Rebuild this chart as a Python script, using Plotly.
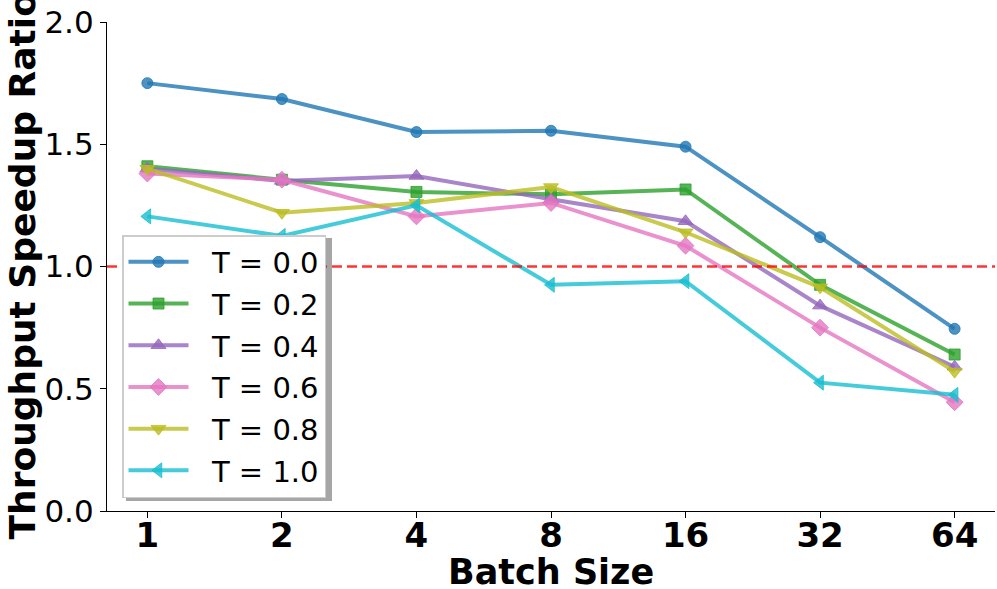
import plotly.graph_objects as go

batch_sizes = ["1", "2", "4", "8", "16", "32", "64"]
t00 = [1.75, 1.685, 1.55, 1.555, 1.49, 1.12, 0.745]
t02 = [1.41, 1.355, 1.305, 1.295, 1.315, 0.925, 0.64]
t04 = [1.40, 1.35, 1.37, 1.275, 1.185, 0.84, 0.59]
t06 = [1.38, 1.355, 1.205, 1.26, 1.085, 0.75, 0.445]
t08 = [1.40, 1.22, 1.26, 1.325, 1.14, 0.915, 0.57]
t10 = [1.205, 1.125, 1.25, 0.925, 0.94, 0.525, 0.475]

names = ["T = 0.0", "T = 0.2", "T = 0.4", "T = 0.6", "T = 0.8", "T = 1.0"]
series = [t00, t02, t04, t06, t08, t10]
colors = ["31,119,180", "44,160,44", "148,103,189", "227,119,194", "188,189,34", "23,190,207"]
symbols = ["circle", "square", "triangle-up", "diamond", "triangle-down", "triangle-left"]
sizes = [11, 11, 13, 13, 13, 13]

fig = go.Figure()
for i, (nm, ys) in enumerate(zip(names, series)):
    c = f"rgba({colors[i]},0.8)"
    fig.add_trace(go.Scatter(
        x=batch_sizes, y=ys, name="\u00a0\u00a0" + nm, mode="lines+markers",
        legendgroup=nm,
        line=dict(color=c, width=4),
        marker=dict(symbol=symbols[i], size=sizes[i], color=c,
                    line=dict(color=c, width=1)),
    ))

L, R, T, B = 107, 2, 22, 78
W, H = 997, 589
pw, ph = W - L - R, H - T - B

def px(x):
    return (x - L) / pw

def py(y):
    return (H - B - y) / ph

# baseline y = 1.0
fig.add_shape(type="line", xref="paper", yref="y", x0=0, x1=1, y0=1.0, y1=1.0,
              line=dict(color="rgba(255,0,0,0.8)", width=2.5, dash="10px,5px"),
              layer="above")
# legend shadow
fig.add_shape(type="rect", xref="paper", yref="paper",
              x0=px(126), x1=px(332), y0=py(501), y1=py(238),
              line=dict(width=0), fillcolor="rgba(77,77,77,0.5)", layer="above")

# axis titles
fig.add_annotation(text="<b>Batch Size</b>", xref="paper", yref="paper",
                   x=(551 - L) / pw, y=0,
                   xanchor="center", yanchor="middle", yshift=-(572 - (H - B)),
                   showarrow=False, font=dict(size=35, family="DejaVu Sans", color="black"))
fig.add_annotation(text="<b>Throughput Speedup Ratio</b>", xref="paper", yref="paper",
                   x=0, y=0.5, xanchor="center", yanchor="middle", xshift=22 - L,
                   textangle=-90, showarrow=False,
                   font=dict(size=36, family="DejaVu Sans", color="black"))

fig.update_layout(
    width=W, height=H,
    margin=dict(l=L, r=R, t=T, b=B, autoexpand=False),
    plot_bgcolor="white", paper_bgcolor="white",
    font=dict(family="DejaVu Sans", color="black"),
    showlegend=True,
    legend=dict(
        x=px(122), y=py(235), xanchor="left", yanchor="top",
        bgcolor="white", bordercolor="#cccccc", borderwidth=1.5,
        font=dict(size=29, family="DejaVu Sans", color="black"),
        itemwidth=60, tracegroupgap=1,
    ),
    xaxis=dict(
        type="category", range=[-0.3, 6.3],
        showline=True, linecolor="black", linewidth=1.2,
        ticks="outside", ticklen=6, tickcolor="black",
        tickfont=dict(size=34, weight="bold"), ticklabelstandoff=-12,
        showgrid=False, zeroline=False,
    ),
    yaxis=dict(
        range=[0, 2.0], dtick=0.5, tickformat=".1f",
        showline=True, linecolor="black", linewidth=1.2,
        ticks="outside", ticklen=6, tickcolor="black",
        tickfont=dict(size=31),
        showgrid=False, zeroline=False,
    ),
)

fig.write_html("out.html")
